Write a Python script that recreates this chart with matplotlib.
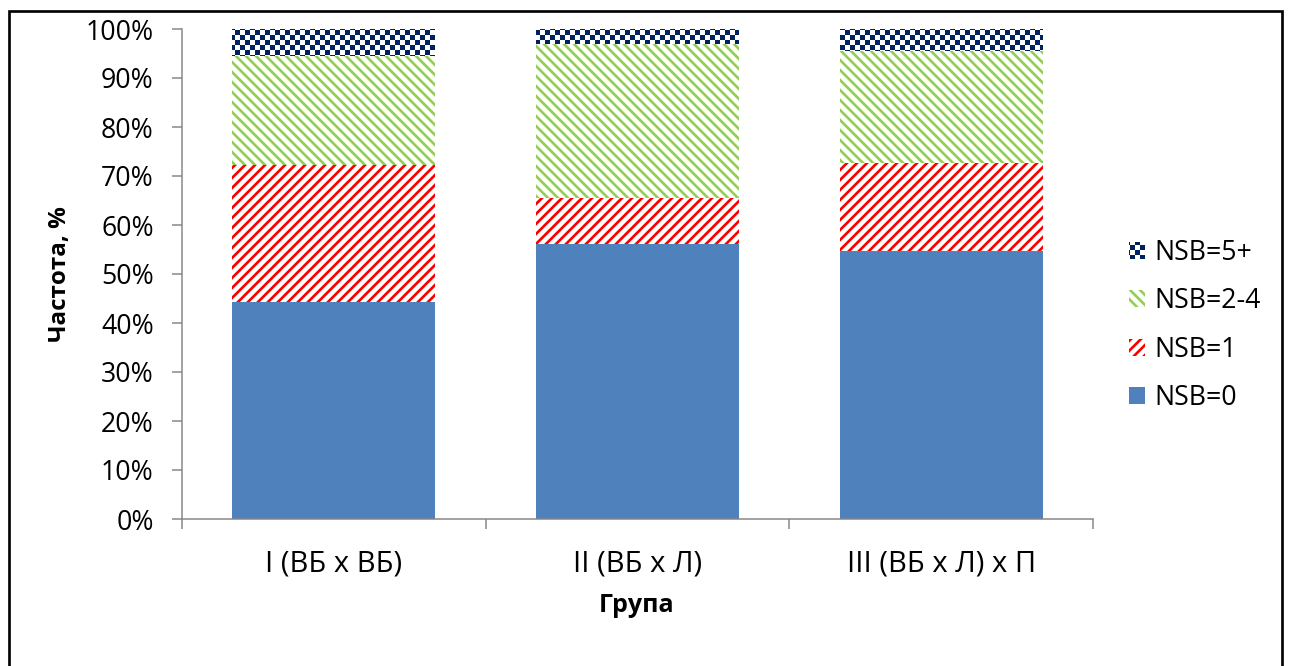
import warnings

import numpy as np
import matplotlib
matplotlib.use("Agg")
import matplotlib.pyplot as plt
from matplotlib import hatch as mhatch
from matplotlib.path import Path
from matplotlib.patches import Rectangle
from matplotlib.ticker import PercentFormatter

warnings.filterwarnings("ignore")

groups = ["I (ВБ x ВБ)", "II (ВБ x Л)", "III (ВБ x Л) x П"]
series = ["NSB=0", "NSB=1", "NSB=2-4", "NSB=5+"]
nsb0 = [44.3, 56.2, 54.7]
nsb1 = [27.9, 9.4, 18.0]
nsb24 = [22.3, 31.3, 22.8]
nsb5 = [5.5, 3.1, 4.5]

DPI = 120
HATCH_LW = 1.6  # points
plt.rcParams['hatch.linewidth'] = HATCH_LW


class CheckerHatch(mhatch.HatchPatternBase):
    """Filled checkerboard hatch, selected with the letter 'c'."""
    filled = True

    def __init__(self, hatch, density):
        self.num_cells = hatch.count('c') * density
        self.num_vertices = 5 * (self.num_cells ** 2 // 2)

    def set_vertices_and_codes(self, vertices, codes):
        n = self.num_cells
        step = 1.0 / n
        # the hatch outline is stroked as well, so shrink each square
        # by half the stroke width on every side
        shrink = (HATCH_LW * DPI / 72.0) / 2.0 / DPI
        k = 0
        for i in range(n):
            for j in range(n):
                if (i + j) % 2:
                    continue
                x0, y0 = j * step + shrink, i * step + shrink
                x1, y1 = (j + 1) * step - shrink, (i + 1) * step - shrink
                vertices[k:k + 5] = [[x0, y0], [x1, y0], [x1, y1], [x0, y1],
                                     [x0, y0]]
                codes[k] = Path.MOVETO
                codes[k + 1:k + 4] = Path.LINETO
                codes[k + 4] = Path.CLOSEPOLY
                k += 5


mhatch._hatch_types.append(CheckerHatch)

plt.rcParams['font.family'] = ['Open Sans', 'DejaVu Sans']

styles = [
    dict(facecolor="#4F81BD", edgecolor="#4F81BD", hatch=None),
    dict(facecolor="white", edgecolor="#FF0000", hatch="////"),
    dict(facecolor="white", edgecolor="#92D050", hatch="\\\\\\\\"),
    dict(facecolor="white", edgecolor="#002060", hatch="cccc"),
]


def apply_style(p, st):
    p.set_facecolor(st["facecolor"])
    p.set_edgecolor(st["edgecolor"])
    p.set_linewidth(0)
    if st["hatch"]:
        p.set_hatch(st["hatch"])


fig = plt.figure(figsize=(1289 / DPI, 666 / DPI), dpi=DPI)
ax = fig.add_axes([182 / 1289, 1 - 519 / 666, (1093 - 182) / 1289, (519 - 29) / 666])

x = np.arange(len(groups))
bottom = np.zeros(len(groups))
for vals, st in zip([nsb0, nsb1, nsb24, nsb5], styles):
    v = np.array(vals) / 100.0
    bars = ax.bar(x, v, 0.668, bottom=bottom)
    for b in bars:
        apply_style(b, st)
    bottom += v

ax.set_xlim(-0.5, 2.5)
ax.set_ylim(0, 1)
ax.yaxis.set_major_locator(plt.MultipleLocator(0.1))
ax.yaxis.set_major_formatter(PercentFormatter(xmax=1, decimals=0))

ax.set_xticks([-0.5, 0.5, 1.5, 2.5])
ax.set_xticklabels([])
ax.set_xticks(x, minor=True)
ax.set_xticklabels(groups, minor=True)

grey = "#868686"
for side in ["top", "right"]:
    ax.spines[side].set_visible(False)
for side in ["left", "bottom"]:
    ax.spines[side].set_color(grey)
    ax.spines[side].set_linewidth(0.9)
ax.tick_params(axis="y", which="major", direction="out", length=6, width=0.9,
               color=grey, labelsize=16, pad=11)
ax.tick_params(axis="x", which="major", direction="out", length=6, width=0.9,
               color=grey)
ax.tick_params(axis="x", which="minor", length=0, labelsize=17.5, pad=18)

fig.text(60 / 1289, 1 - 274 / 666, "Частота, %", rotation=90, ha="center",
         va="center", fontsize=14.5, fontweight="bold")
fig.text(637 / 1289, 1 - 605 / 666, "Група", ha="center", va="center",
         fontsize=15, fontweight="bold")

handles = []
for st in styles:
    r = Rectangle((0, 0), 1, 1)
    apply_style(r, st)
    handles.append(r)
fig.legend(handles[::-1], series[::-1], loc="center left",
           bbox_to_anchor=(1129 / 1289, 1 - 325.5 / 666),
           bbox_transform=fig.transFigure, frameon=False, fontsize=16,
           handlelength=0.6, handleheight=0.6, handletextpad=0.34,
           labelspacing=0.77, borderpad=0, borderaxespad=0)

# outer frame around the whole chart
fig.patches.append(Rectangle((9 / 1289, -0.02), (1282 - 9) / 1289, 1.02 - 11 / 666,
                             transform=fig.transFigure, fill=False,
                             edgecolor="black", linewidth=1.6))

fig.savefig("out.png", dpi=DPI)
